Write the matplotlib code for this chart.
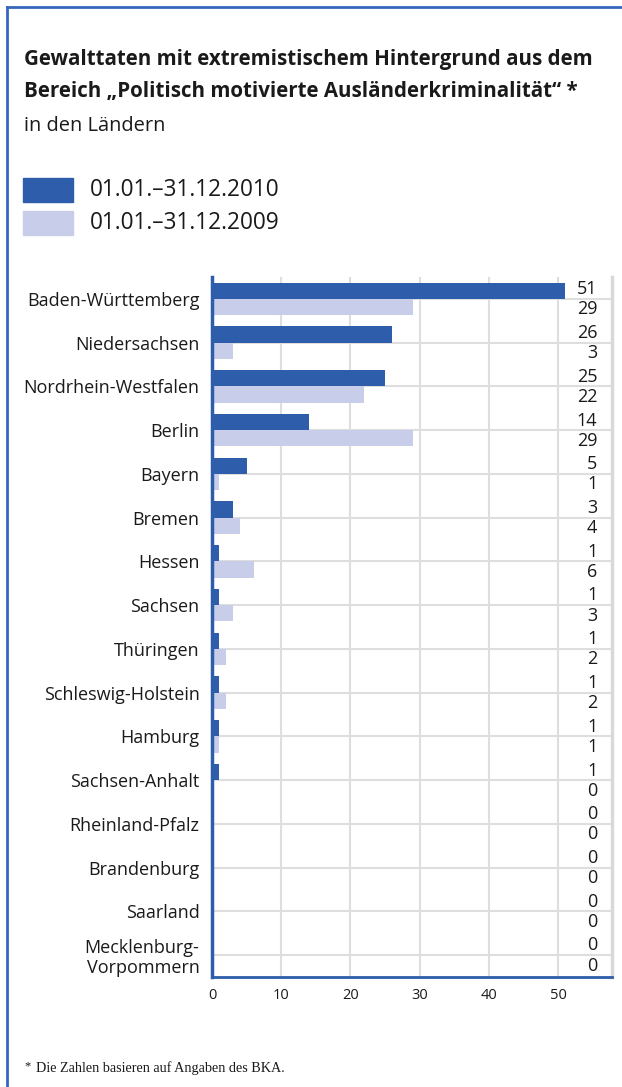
import numpy as np
import matplotlib
matplotlib.use("Agg")
import matplotlib.pyplot as plt

laender = ["Baden-Württemberg", "Niedersachsen", "Nordrhein-Westfalen", "Berlin",
           "Bayern", "Bremen", "Hessen", "Sachsen", "Thüringen", "Schleswig-Holstein",
           "Hamburg", "Sachsen-Anhalt", "Rheinland-Pfalz", "Brandenburg", "Saarland",
           "Mecklenburg-\nVorpommern"]
werte_2010 = [51, 26, 25, 14, 5, 3, 1, 1, 1, 1, 1, 1, 0, 0, 0, 0]
werte_2009 = [29, 3, 22, 29, 1, 4, 6, 3, 2, 2, 1, 0, 0, 0, 0, 0]
xticks = [0, 10, 20, 30, 40, 50]
legende = ["01.01.–31.12.2010", "01.01.–31.12.2009"]

DARK = "#2e5dab"
LIGHT = "#c8cde9"
FRAME = "#3567bd"
GRID = "#dedede"
TXT = "#1a1a1a"

plt.rcParams["font.family"] = ["Open Sans", "DejaVu Sans"]

W, H = 622, 1087
fig = plt.figure(figsize=(W / 100, H / 100), dpi=100)
ax = fig.add_axes([212 / W, 1 - 977 / H, 400 / W, 700 / H])

y = np.arange(len(laender))
bh = 0.37
ax.barh(y - bh / 2, werte_2010, height=bh, color=DARK, zorder=3)
ax.barh(y + bh / 2, werte_2009, height=bh, color=LIGHT, zorder=3)

ax.set_xlim(0, 57.8)
ax.set_ylim(len(laender) - 0.5, -0.5)

for yi, a, b in zip(y, werte_2010, werte_2009):
    ax.text(55.7, yi - 0.22, str(a), ha="right", va="center", fontsize=13, color=TXT, zorder=4)
    ax.text(55.7, yi + 0.24, str(b), ha="right", va="center", fontsize=13, color=TXT, zorder=4)

ax.set_xticks(xticks)
ax.set_xticklabels([str(t) for t in xticks], fontsize=10.5, color=TXT)
ax.set_yticks(y)
ax.set_yticklabels(laender, fontsize=13, color=TXT, linespacing=1.1)
ax.tick_params(axis="both", length=0)
ax.tick_params(axis="y", pad=9)
ax.tick_params(axis="x", pad=8)

for t in xticks[1:]:
    ax.axvline(t, color=GRID, lw=1.5, zorder=1)
for yi in y:
    ax.axhline(yi, color=GRID, lw=1.5, zorder=1)

ax.spines["top"].set_visible(False)
ax.spines["left"].set_color(DARK)
ax.spines["left"].set_linewidth(2.5)
ax.spines["left"].set_zorder(5)
ax.spines["bottom"].set_color(DARK)
ax.spines["bottom"].set_linewidth(2)
ax.spines["right"].set_color("#d9d9d9")
ax.spines["right"].set_linewidth(2.5)

# Rahmen oben und links
fig.add_artist(plt.Line2D([7 / W, 1], [1 - 7 / H, 1 - 7 / H], color=FRAME, lw=2))
fig.add_artist(plt.Line2D([7 / W, 7 / W], [0, 1 - 7 / H], color=FRAME, lw=2))

# Titel
fig.text(24 / W, 1 - 60 / H, "Gewalttaten mit extremistischem Hintergrund aus dem",
         fontsize=14.8, fontweight="bold", color=TXT, va="center")
fig.text(24 / W, 1 - 92 / H, "Bereich „Politisch motivierte Ausländerkriminalität“ *",
         fontsize=14.8, fontweight="bold", color=TXT, va="center")
fig.text(24 / W, 1 - 126 / H, "in den Ländern", fontsize=14.4, color=TXT, va="center")

# Legende
for i, (lab, col) in enumerate(zip(legende, [DARK, LIGHT])):
    yc = 190 + i * 33
    fig.patches.append(plt.Rectangle((23 / W, 1 - (yc + 12) / H), 50 / W, 24 / H,
                                     transform=fig.transFigure, color=col, figure=fig))
    fig.text(90 / W, 1 - yc / H, lab, fontsize=16.3, color=TXT, va="center")

fig.text(24 / W, 1 - 1066 / H, "*", fontsize=9, color=TXT, va="center",
         family=["Liberation Serif", "DejaVu Serif"])
fig.text(36 / W, 1 - 1068 / H, "Die Zahlen basieren auf Angaben des BKA.", fontsize=10.2,
         color=TXT, va="center", family=["Liberation Serif", "DejaVu Serif"])

fig.savefig("out.png", dpi=100, facecolor="white")
